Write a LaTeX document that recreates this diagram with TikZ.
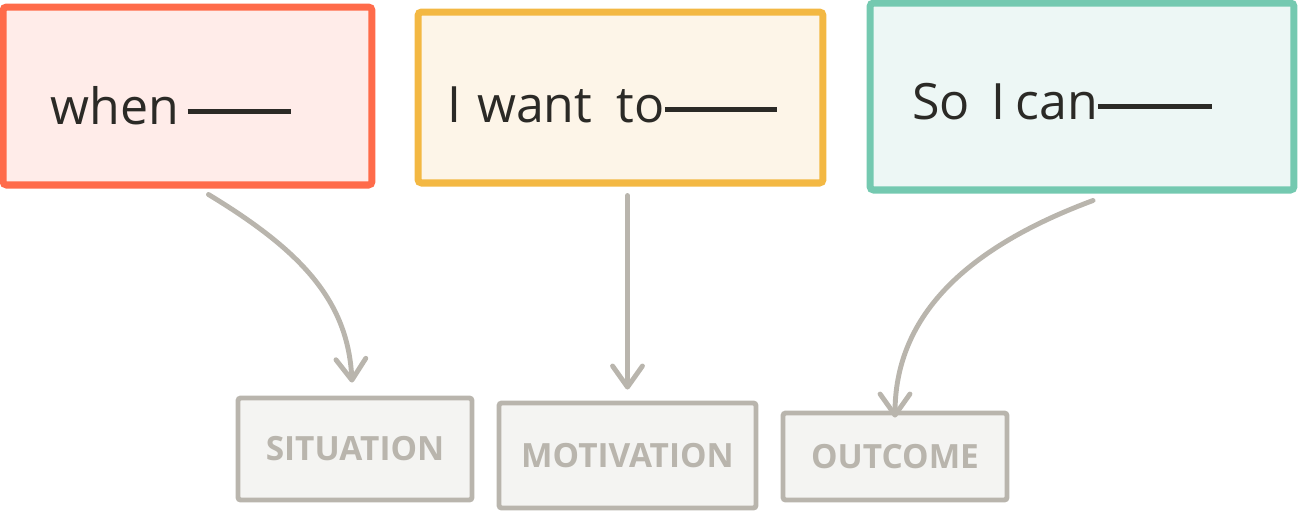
\documentclass[tikz,border=0pt]{standalone}
\usepackage{fontspec}
\setmainfont{Open Sans}
\usetikzlibrary{arrows.meta,calc}

\definecolor{whenline}{HTML}{FF6B4A}
\definecolor{whenfill}{HTML}{FFECE9}
\definecolor{wantline}{HTML}{F3B843}
\definecolor{wantfill}{HTML}{FDF5E8}
\definecolor{canline}{HTML}{74C9B0}
\definecolor{canfill}{HTML}{EDF7F5}
\definecolor{tagline}{HTML}{B9B5AD}
\definecolor{tagfill}{HTML}{F4F4F2}
\definecolor{ink}{HTML}{2B2A26}

\newcommand{\blankline}[1]{\rule[0.2em]{#1}{2.6pt}}

\begin{document}
\begin{tikzpicture}[
        x=0.02cm,y=-0.02cm,
        card/.style={draw,line width=4pt,rounded corners=2pt,inner sep=0pt},
        tag/.style={draw=tagline,fill=tagfill,line width=2.8pt,rounded corners=1.5pt,inner sep=0pt,
            text=tagline,font=\fontsize{19}{23}\selectfont\bfseries},
        hand/.style={anchor=base west,inner sep=0pt,text=ink,font=\fontsize{28.5}{34}\selectfont},
        link/.style={draw=tagline,line width=2.8pt,line cap=round,
            -{Straight Barb[length=12pt,width=17pt,line width=2.8pt,round]}}
    ]
        \useasboundingbox (0,0) rectangle (1300,511);

        % top cards
        \node[card,draw=whenline,fill=whenfill,minimum width=7.38cm,minimum height=3.56cm] (when) at (187.5,96) {};
        \node[card,draw=wantline,fill=wantfill,minimum width=8.1cm,minimum height=3.42cm] (want) at (620.5,97.5) {};
        \node[card,draw=canline,fill=canfill,minimum width=8.48cm,minimum height=3.74cm] (can) at (1082,96.5) {};

        \node[hand] (whentext) at (50,124) {when\hspace{5pt}\blankline{59pt}};
        \node[hand] (wanttext) at (447,122) {I\hspace{9pt}want\hspace{14pt}to\blankline{64pt}};
        \node[hand] (cantext) at (912,119) {So\hspace{12pt}I\hspace{6pt}can\blankline{65pt}};

        % bottom tags
        \node[tag,minimum width=4.68cm,minimum height=2.04cm] (situation) at (355,449) {SITUATION};
        \node[tag,minimum width=5.14cm,minimum height=2.1cm] (motivation) at (627.5,455.5) {MOTIVATION};
        \node[tag,minimum width=4.48cm,minimum height=1.74cm] (outcome) at (895,456.5) {OUTCOME};

        \draw[link] ($(when.south)+(21,6)$) .. controls (300,250) and (348,300) .. ($(situation.north)+(-3,-13)$);
        \draw[link] (motivation.north |- want.south) ++(0,9) -- ($(motivation.north)+(0,-11)$);
        \draw[link] ($(can.south)+(11,7)$) .. controls (960,250) and (895,320) .. ($(outcome.north)+(0,7)$);
    \end{tikzpicture}
\end{document}
